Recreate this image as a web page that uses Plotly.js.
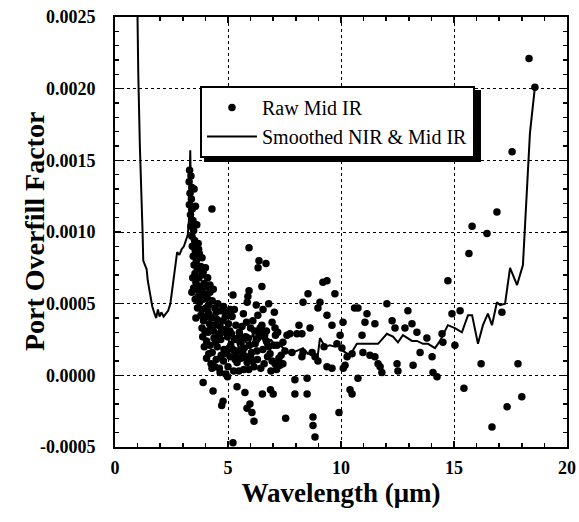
<!DOCTYPE html>
<html>
<head>
<meta charset="utf-8">
<script src="https://cdn.plot.ly/plotly-3.0.1.min.js"></script>
<style>html,body{margin:0;padding:0;background:#fff;}#chart{width:579px;height:522px;}</style>
</head>
<body>
<div id="chart"></div>
<script>
// Raw Mid IR scatter points (wavelength in µm, port overfill factor)
const rawX = [
3.30,3.36,3.28,3.40,3.32,3.38,3.29,3.42,3.34,3.45,3.36,3.48,3.40,3.52,3.42,3.55,3.46,3.60,3.50,3.64,3.54,3.70,3.58,3.76,3.62,3.82,3.68,3.90,3.74,3.48,3.44,
3.50,3.56,3.62,3.68,3.73,3.80,3.86,3.95,4.02,3.40,3.55,3.65,3.58,3.70,3.85,4.00,4.10,3.90,4.20,4.35,
3.95,4.08,4.20,4.02,4.15,4.30,4.42,4.55,4.68,3.85,4.80,4.95,5.10,
4.12,4.48,4.88,5.28,
5.85,6.25,6.55,7.05,6.80,
3.80,3.92,4.05,4.18,4.28,4.40,4.52,4.65,4.78,4.90,5.02,5.18,5.35,5.50,5.68,5.82,6.00,6.18,6.32,6.50,6.70,6.95,3.98,4.12,4.35,4.60,
3.85,4.22,4.45,4.75,5.08,5.22,5.45,5.62,5.78,6.10,6.28,6.42,6.62,6.80,7.20,7.35,4.15,4.42,4.70,5.05,5.48,5.65,5.92,6.10,6.45,6.90,3.95,4.58,5.32,5.80,6.25,7.25,
3.88,4.05,4.20,4.38,4.52,4.68,4.82,4.98,5.12,5.28,5.42,5.58,5.72,5.88,6.04,6.20,6.36,6.54,6.70,6.86,7.02,4.30,4.95,5.52,6.45,5.15,5.95,
4.05,4.25,4.48,4.62,4.80,5.00,5.10,5.25,5.40,5.58,5.70,5.85,6.00,6.15,6.30,6.60,6.75,6.95,7.15,5.35,4.90,4.29,4.65,
3.90,4.34,4.78,4.72,4.98,5.40,5.75,5.97,5.84,6.06,6.15,6.52,6.88,7.00,7.55,5.22,
4.29,5.93,6.37,6.33,6.68,6.50,5.93,5.88,5.22,
9.20,9.38,8.54,9.73,8.32,9.07,8.98,9.38,9.60,10.09,9.96,8.63,8.14,8.27,8.05,7.74,7.61,7.08,7.10,
10.60,10.75,11.15,11.06,11.50,10.93,10.27,10.49,10.97,11.28,11.50,11.64,10.18,10.10,10.75,10.40,10.49,9.91,
8.76,8.76,8.85,7.96,8.50,7.96,8.50,9.38,9.60,8.98,8.85,7.43,7.30,7.08,8.27,8.32,7.83,7.52,7.43,7.17,9.25,8.72,9.82,10.04,
12.03,12.96,12.26,12.39,12.83,13.14,13.36,13.80,13.50,14.03,13.19,12.48,12.52,11.73,11.81,14.07,14.25,14.47,14.51,
14.73,14.91,15.27,15.04,15.44,15.66,15.80,16.20,16.46,16.68,16.90,17.12,17.35,17.57,17.83,18.00,18.32,18.58
];
const rawY = [
0.00143,0.00139,0.00135,0.00131,0.00127,0.00123,0.00119,0.00116,0.00112,0.00108,0.00104,0.00101,0.00097,0.00094,0.00090,0.00087,0.00083,0.00080,0.00077,0.00074,0.00071,0.00068,0.00065,0.00062,0.00060,0.00058,0.00055,0.00053,0.00051,0.00061,0.00068,
0.00130,0.00118,0.00105,0.00092,0.00085,0.00076,0.00070,0.00064,0.00062,0.00058,0.00053,0.00047,0.00040,0.00088,0.00082,0.00075,0.00068,0.00072,0.00063,0.00060,
0.00057,0.00054,0.00058,0.00047,0.00049,0.00052,0.00047,0.00050,0.00045,0.00046,0.00048,0.00044,0.00046,
0.00043,0.00044,0.00041,0.00046,
0.00051,0.00049,0.00046,0.00044,0.00050,
0.00042,0.00038,0.00041,0.00036,0.00040,0.00035,0.00039,0.00034,0.00038,0.00032,0.00036,0.00041,0.00035,0.00030,0.00043,0.00037,0.00033,0.00031,0.00042,0.00035,0.00031,0.00037,0.00031,0.00030,0.00031,0.00029,
0.00033,0.00032,0.00023,0.00030,0.00031,0.00018,0.00026,0.00034,0.00027,0.00038,0.00017,0.00033,0.00028,0.00020,0.00030,0.00014,0.00015,0.00006,0.00014,0.00019,0.00003,0.00016,0.00004,0.00010,0.00005,0.00003,0.00020,0.00027,0.00011,0.00013,0.00025,0.00012,
0.00027,0.00024,0.00021,0.00026,0.00020,0.00025,0.00018,0.00027,0.00021,0.00025,0.00017,0.00023,0.00019,0.00026,0.00016,0.00022,0.00027,0.00018,0.00024,0.00015,0.00021,0.00016,0.00015,0.00028,0.00029,0.00029,0.00021,
0.00012,0.00008,0.00011,0.00005,0.00010,0.00006,0.00013,0.00003,0.00009,0.00012,0.00004,0.00009,0.00013,0.00006,0.00011,0.00008,0.00013,0.00010,0.00004,0.00015,0.00001,0.00005,0.00002,
-0.00005,-0.00011,-0.00018,-0.00021,-0.00001,-0.00008,-0.00012,-0.00020,-0.00023,-0.00026,-0.00032,-0.00013,-0.00010,-0.00013,-0.00030,-0.00047,
0.00116,0.00089,0.00080,0.00075,0.00078,0.00062,0.00059,0.00055,0.00056,
0.00065,0.00066,0.00057,0.00057,0.00051,0.00051,0.00047,0.00042,0.00035,0.00037,0.00028,0.00033,0.00035,0.00029,0.00029,0.00029,0.00028,0.00033,0.00028,
0.00047,0.00047,0.00043,0.00037,0.00036,0.00028,0.00013,0.00015,0.00016,0.00014,0.00013,0.00008,0.00007,0.00005,-0.00002,-0.00010,-0.00013,-0.00026,
-0.00029,-0.00035,-0.00043,-0.00013,-0.00013,-0.00003,-0.00002,0.00006,0.00005,0.00010,0.00013,0.00008,0.00007,0.00008,0.00013,0.00016,0.00016,0.00017,0.00023,0.00021,0.00020,0.00016,0.00022,0.00019,
0.00050,0.00045,0.00038,0.00033,0.00033,0.00036,0.00030,0.00026,0.00016,0.00013,0.00007,0.00008,0.00003,0.00006,0.00002,0.00002,-0.00001,0.00029,0.00023,
0.00066,0.00043,0.00045,0.00021,-0.00009,0.00085,0.00104,0.00008,0.00099,-0.00036,0.00114,0.00044,-0.00022,0.00156,0.00008,-0.00015,0.00221,0.00201
];
// Smoothed NIR & Mid IR curve
const smoothX = [
0.98,1.00,1.03,1.10,1.17,1.22,1.25,1.32,1.40,1.45,1.55,1.65,1.75,1.82,1.90,1.97,2.05,2.15,2.25,2.35,2.45,2.52,2.60,2.68,2.75,2.85,2.95,3.05,3.15,3.22,3.27,3.31,3.33,
3.36,3.42,3.50,3.60,3.72,3.85,4.00,4.15,4.30,4.50,4.70,4.90,5.10,5.30,5.50,5.70,5.90,6.10,6.30,6.50,6.70,6.90,7.10,7.30,
7.74,8.32,8.54,8.76,8.94,9.07,9.29,9.51,9.73,9.87,10.09,10.40,10.70,11.15,11.64,12.03,12.30,12.52,12.74,13.14,13.36,13.63,13.85,14.16,14.38,
14.73,15.04,15.35,15.62,15.80,16.06,16.28,16.50,16.68,16.90,17.04,17.26,17.48,17.79,18.05,18.36,18.58
];
const smoothY = [
0.00270,0.00220,0.00210,0.00160,0.00130,0.00100,0.00080,0.00077,0.00074,0.00066,0.00058,0.00048,0.00043,0.00040,0.00046,0.00041,0.00044,0.00041,0.00043,0.00045,0.00050,0.00058,0.00066,0.00076,0.00086,0.00084,0.00088,0.00090,0.00094,0.00098,0.00108,0.00130,0.00157,
0.00125,0.00110,0.00098,0.00086,0.00074,0.00064,0.00056,0.00048,0.00042,0.00038,0.00034,0.00029,0.00022,0.00028,0.00018,0.00026,0.00020,0.00029,0.00022,0.00027,0.00019,0.00025,0.00020,0.00021,
0.00015,0.00019,0.00015,0.00016,0.00010,0.00026,0.00020,0.00021,0.00020,0.00022,0.00017,0.00014,0.00022,0.00022,0.00022,0.00029,0.00027,0.00023,0.00028,0.00024,0.00024,0.00022,0.00022,0.00019,0.00024,
0.00035,0.00033,0.00030,0.00042,0.00042,0.00022,0.00035,0.00043,0.00035,0.00051,0.00049,0.00050,0.00075,0.00063,0.00077,0.00169,0.00201
];
const seriesNames = ['Raw Mid IR', 'Smoothed NIR & Mid IR'];
const xTitle = 'Wavelength (μm)';
const yTitle = 'Port Overfill Factor';
const yTickVals = [-0.0005, 0, 0.0005, 0.001, 0.0015, 0.002, 0.0025];
const yTickText = ['-0.0005', '0.0000', '0.0005', '0.0010', '0.0015', '0.0020', '0.0025'];

const serif = 'Liberation Serif, Times New Roman, Times, serif';
const tickFont = {family: serif, size: 18, color: '#000', weight: 'bold'};

const traces = [
  {x: rawX, y: rawY, name: seriesNames[0], type: 'scatter', mode: 'markers',
   marker: {color: '#000', size: 7.5, symbol: 'circle'}},
  {x: smoothX, y: smoothY, name: seriesNames[1], type: 'scatter', mode: 'lines',
   line: {color: '#000', width: 2}}
];

const axisCommon = {
  showline: true, linewidth: 2, linecolor: '#000', mirror: 'allticks',
  ticks: 'inside', ticklen: 6, tickwidth: 1.5, tickcolor: '#000',
  showgrid: true, gridcolor: '#000', griddash: 'dot', gridwidth: 1,
  zeroline: false, tickfont: tickFont
};

const layout = {
  width: 579, height: 522,
  margin: {l: 115, r: 12, t: 17, b: 75},
  paper_bgcolor: '#fff', plot_bgcolor: '#fff',
  showlegend: true,
  legend: {x: 0.188, y: 0.8395, xanchor: 'left', yanchor: 'top',
    bgcolor: '#fff', bordercolor: '#000', borderwidth: 2,
    font: {family: serif, size: 20, color: '#000'}, itemwidth: 50},
  xaxis: Object.assign({}, axisCommon, {
    range: [0, 20], tick0: 0, dtick: 5, ticklabelstandoff: 3,
    minor: {dtick: 1, ticks: 'inside', ticklen: 4, tickcolor: '#000', tickwidth: 1.5, showgrid: false},
    title: {text: xTitle, font: {family: serif, size: 27, color: '#000', weight: 'bold'}, standoff: 0}
  }),
  yaxis: Object.assign({}, axisCommon, {
    range: [-0.0005, 0.0025], tickmode: 'array', tickvals: yTickVals, ticktext: yTickText, ticklabelstandoff: 14,
    minor: {dtick: 0.0001, ticks: 'inside', ticklen: 4, tickcolor: '#000', tickwidth: 1.5, showgrid: false}
  }),
  annotations: [
    {text: yTitle, xref: 'paper', yref: 'paper', x: -0.179, y: 0.5, xanchor: 'center', yanchor: 'middle',
     textangle: -90, showarrow: false, font: {family: serif, size: 28, color: '#000', weight: 'bold'}}
  ],
  shapes: [
    {type: 'rect', xref: 'paper', yref: 'paper', x0: 0.197, x1: 0.8097, y0: 0.663, y1: 0.830,
     fillcolor: '#000', line: {width: 0}, layer: 'above'}
  ]
};

Plotly.newPlot('chart', traces, layout, {displayModeBar: false, staticPlot: true});
</script>
</body>
</html>
